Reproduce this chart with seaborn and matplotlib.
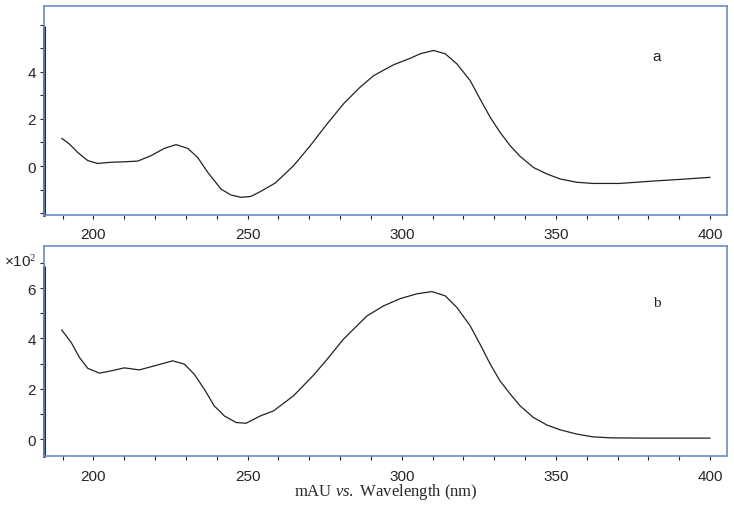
import numpy as np
import pandas as pd
import matplotlib
matplotlib.use('Agg')
import matplotlib.pyplot as plt
import seaborn as sns
from matplotlib.ticker import MultipleLocator

# spectrum a (mAU)
wl_a = [189.7, 192.2, 194.9, 198.2, 201.4, 205.7, 210.0, 214.4, 218.7, 223.0,
        226.8, 230.6, 233.8, 237.1, 241.4, 244.6, 247.9, 251.1, 254.1, 259.0,
        264.9, 270.3, 275.8, 281.1, 286.5, 290.9, 297.3, 302.8, 306.0, 310.3,
        314.1, 317.9, 322.2, 325.4, 328.7, 331.9, 335.2, 338.4, 342.7, 347.1,
        351.4, 356.8, 362.0, 370.6, 381.4, 392.3, 400.0]
abs_a = [1.18, 0.94, 0.58, 0.23, 0.11, 0.16, 0.18, 0.21, 0.44, 0.75,
         0.91, 0.75, 0.37, -0.27, -0.98, -1.23, -1.33, -1.29, -1.09, -0.72,
         0.01, 0.86, 1.79, 2.64, 3.35, 3.84, 4.30, 4.58, 4.77, 4.91,
         4.77, 4.34, 3.63, 2.85, 2.07, 1.43, 0.86, 0.41, -0.06, -0.34,
         -0.55, -0.69, -0.74, -0.74, -0.64, -0.55, -0.48]

# spectrum b (mAU x10^2)
wl_b = [189.7, 192.8, 195.5, 198.2, 202.0, 205.7, 210.0, 214.9, 219.8, 225.7,
        229.5, 232.7, 236.0, 239.2, 242.5, 246.3, 249.5, 254.1, 258.4, 264.9,
        271.4, 275.8, 281.1, 288.7, 294.1, 299.5, 304.9, 309.8, 314.1, 317.9,
        322.2, 325.4, 328.7, 331.9, 335.2, 338.4, 342.7, 347.1, 351.4, 356.8,
        362.0, 368.0, 380.0, 400.0]
abs_b = [4.34, 3.84, 3.24, 2.81, 2.62, 2.71, 2.83, 2.75, 2.91, 3.11,
         2.98, 2.58, 1.98, 1.32, 0.92, 0.66, 0.63, 0.92, 1.12, 1.72,
         2.54, 3.17, 3.97, 4.89, 5.29, 5.58, 5.77, 5.86, 5.69, 5.23,
         4.50, 3.77, 2.98, 2.31, 1.79, 1.32, 0.86, 0.56, 0.37, 0.20,
         0.09, 0.05, 0.04, 0.04]

df_a = pd.DataFrame({'wl': wl_a, 'v': abs_a})
df_b = pd.DataFrame({'wl': wl_b, 'v': abs_b})

sns.set_style('white')
plt.rcParams['font.family'] = ['Liberation Sans', 'DejaVu Sans']
plt.rcParams['mathtext.fontset'] = 'custom'
plt.rcParams['mathtext.it'] = 'Liberation Serif:italic'
plt.rcParams['mathtext.rm'] = 'Liberation Serif'

fig = plt.figure(figsize=(7.34, 5.10), dpi=100)
ax1 = fig.add_axes([0.060, 0.5765, 0.9305, 0.4098])
ax2 = fig.add_axes([0.060, 0.1039, 0.9305, 0.4118])

box_col = '#6a8ccc'
axis_col = '#1c2747'

panels = [(ax1, df_a, (-2.08, 6.8), 5.9, [0, 2, 4], 'a', 4.68, 'Liberation Sans'),
          (ax2, df_b, (-0.67, 7.67), 6.83, [0, 2, 4, 6], 'b', 5.44, 'Liberation Serif')]

for ax, df, ylim, ytop, yt, lab, ylab, fam in panels:
    sns.lineplot(data=df, x='wl', y='v', ax=ax, color='#222222', linewidth=0.9)
    ax.set_xlim(184, 405.5)
    ax.set_ylim(*ylim)
    ax.set_xticks([200, 250, 300, 350, 400])
    ax.xaxis.set_minor_locator(MultipleLocator(10))
    ax.set_yticks(yt)
    ax.yaxis.set_minor_locator(MultipleLocator(1))
    ax.tick_params(axis='x', which='both', direction='out', length=3, width=0.8,
                   color='#222222', labelsize=11, pad=6, bottom=True)
    ax.tick_params(axis='y', which='both', direction='out', length=3, width=0.8,
                   color='#222222', labelsize=11, pad=3, left=True)
    for s in ax.spines.values():
        s.set_color(box_col)
        s.set_linewidth(1.2)
    frac_top = (ytop - ylim[0]) / (ylim[1] - ylim[0])
    ax.axvline(184, ymin=0, ymax=frac_top, color=axis_col, linewidth=2.2, clip_on=False)
    ax.set_xlabel('')
    ax.set_ylabel('')
    ax.text(382.7, ylab, lab, fontsize=11, family=fam,
            ha='center', va='center', color='#222222')

ax2.set_xlabel('mAU $\\mathit{vs.}$ Wavelength (nm)', fontsize=12,
               family='Liberation Serif', labelpad=-1)
fig.text(0.005, 0.487, '×10$^{\\mathrm{2}}$', fontsize=11, ha='left', va='center')

fig.savefig('out.png', dpi=100)
